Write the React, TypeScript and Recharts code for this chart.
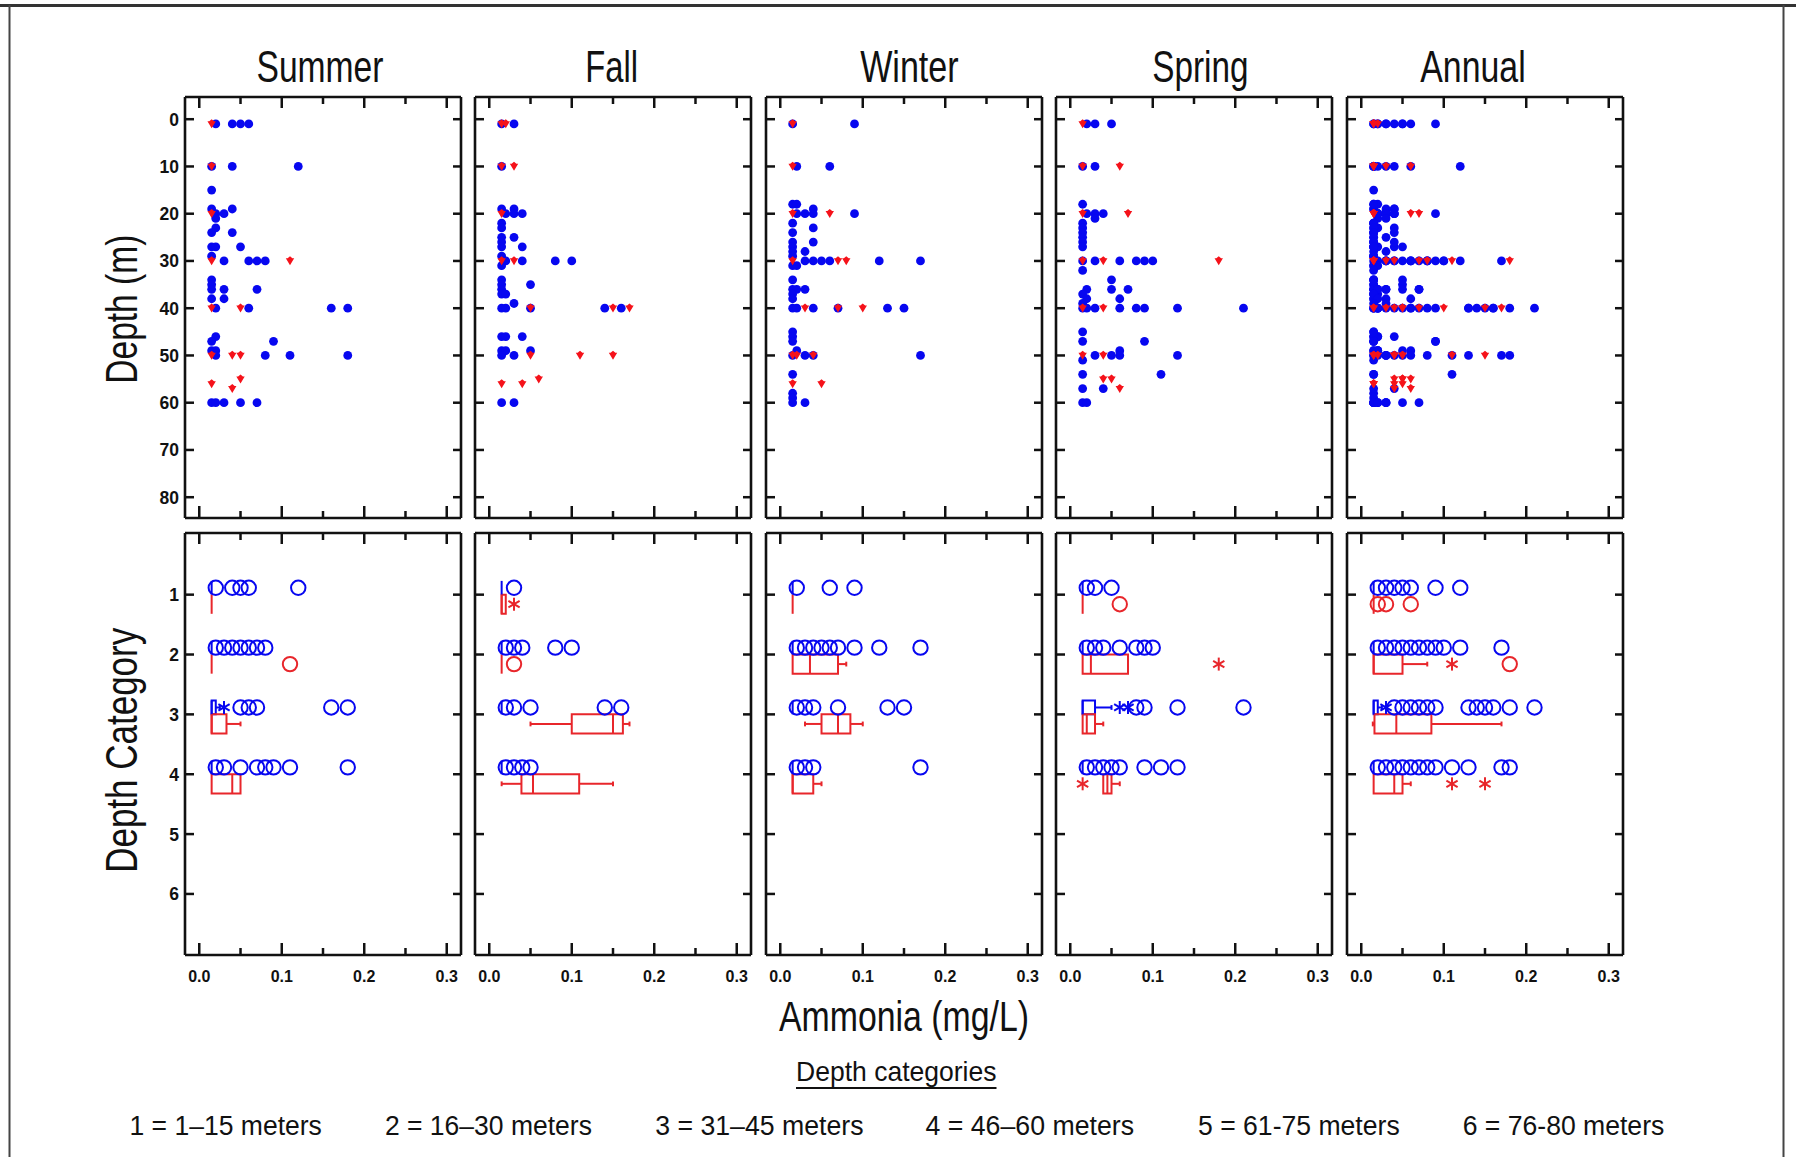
import React from 'react';
import {
  ComposedChart,
  Scatter,
  XAxis,
  YAxis,
  ReferenceArea,
  ReferenceLine,
} from 'recharts';

// [depth (m), ammonia values at that depth]
type Row = [number, number[]];
// [category, whiskerLow, q1, median, q3, whiskerHigh]
type Box = [number, number, number, number, number, number];
// [category, outlier values]
type Outliers = [number, number[]];

const SEASONS = ['Summer', 'Fall', 'Winter', 'Spring', 'Annual'];
const AMMONIA_TICKS = [0, 0.05, 0.1, 0.15, 0.2, 0.25, 0.3];
const DEPTH_TICKS = [0, 10, 20, 30, 40, 50, 60, 70, 80];
const CATEGORY_TICKS = [1, 2, 3, 4, 5, 6];
const LEGEND_ITEMS = [
  '1 = 1–15 meters',
  '2 = 16–30 meters',
  '3 = 31–45 meters',
  '4 = 46–60 meters',
  '5 = 61-75 meters',
  '6 = 76-80 meters',
];

// ---- depth profiles (top row) ----
const summerBlue: Row[] = [
  [1, [0.02, 0.04, 0.05, 0.06]],
  [10, [0.015, 0.04, 0.12]],
  [15, [0.015]],
  [19, [0.015, 0.04]],
  [20, [0.02, 0.03]],
  [21, [0.02]],
  [23, [0.02]],
  [24, [0.015, 0.04]],
  [27, [0.015, 0.02, 0.05]],
  [29, [0.015]],
  [30, [0.03, 0.06, 0.07, 0.08]],
  [34, [0.015]],
  [35, [0.015]],
  [36, [0.015, 0.03, 0.07]],
  [38, [0.015, 0.03]],
  [40, [0.02, 0.06, 0.16, 0.18]],
  [46, [0.02]],
  [47, [0.015, 0.09]],
  [49, [0.015, 0.02]],
  [50, [0.02, 0.08, 0.11, 0.18]],
  [60, [0.015, 0.02, 0.03, 0.05, 0.07]],
];
const summerRed: Row[] = [
  [1, [0.015]],
  [10, [0.015]],
  [20, [0.015]],
  [30, [0.015, 0.11]],
  [40, [0.015, 0.05]],
  [50, [0.015, 0.04, 0.05]],
  [55, [0.05]],
  [56, [0.015]],
  [57, [0.04]],
];

const fallBlue: Row[] = [
  [1, [0.015, 0.03]],
  [10, [0.015]],
  [19, [0.015, 0.03]],
  [20, [0.02, 0.03, 0.04]],
  [22, [0.015]],
  [23, [0.015]],
  [25, [0.015, 0.03]],
  [26, [0.015]],
  [27, [0.015, 0.04]],
  [29, [0.015]],
  [30, [0.02, 0.04, 0.08, 0.1]],
  [31, [0.015]],
  [34, [0.015]],
  [35, [0.015, 0.05]],
  [36, [0.015]],
  [37, [0.015, 0.02]],
  [39, [0.03]],
  [40, [0.015, 0.02, 0.05, 0.14, 0.16]],
  [46, [0.015, 0.02, 0.04]],
  [49, [0.015, 0.02, 0.05]],
  [50, [0.015, 0.03]],
  [60, [0.015, 0.03]],
];
const fallRed: Row[] = [
  [1, [0.015, 0.02]],
  [10, [0.015, 0.03]],
  [20, [0.015]],
  [30, [0.015, 0.03]],
  [40, [0.05, 0.15, 0.17]],
  [50, [0.05, 0.11, 0.15]],
  [55, [0.06]],
  [56, [0.015, 0.04]],
];

const winterBlue: Row[] = [
  [1, [0.015, 0.09]],
  [10, [0.02, 0.06]],
  [18, [0.015, 0.02]],
  [19, [0.04]],
  [20, [0.02, 0.03, 0.04, 0.09]],
  [22, [0.015]],
  [23, [0.04]],
  [24, [0.015]],
  [26, [0.015, 0.04]],
  [27, [0.015]],
  [28, [0.015, 0.03]],
  [29, [0.015]],
  [30, [0.03, 0.04, 0.05, 0.06, 0.12, 0.17]],
  [31, [0.015, 0.02]],
  [34, [0.015]],
  [36, [0.015, 0.02, 0.03]],
  [37, [0.015]],
  [38, [0.015]],
  [40, [0.015, 0.02, 0.04, 0.07, 0.13, 0.15]],
  [45, [0.015]],
  [46, [0.015]],
  [47, [0.015]],
  [49, [0.02]],
  [50, [0.015, 0.03, 0.04, 0.17]],
  [54, [0.015]],
  [58, [0.015]],
  [59, [0.015]],
  [60, [0.015, 0.03]],
];
const winterRed: Row[] = [
  [1, [0.015]],
  [10, [0.015]],
  [20, [0.015, 0.06]],
  [30, [0.015, 0.07, 0.08]],
  [40, [0.03, 0.07, 0.1]],
  [50, [0.015, 0.02, 0.04]],
  [56, [0.015, 0.05]],
];

const springBlue: Row[] = [
  [1, [0.02, 0.03, 0.05]],
  [10, [0.015, 0.03]],
  [18, [0.015]],
  [20, [0.02, 0.03, 0.04]],
  [21, [0.03]],
  [22, [0.015]],
  [23, [0.015]],
  [24, [0.015]],
  [25, [0.015]],
  [26, [0.015]],
  [27, [0.015]],
  [30, [0.015, 0.03, 0.06, 0.08, 0.09, 0.1]],
  [32, [0.015]],
  [34, [0.05]],
  [36, [0.02, 0.05, 0.07]],
  [37, [0.015]],
  [38, [0.02, 0.06]],
  [39, [0.015]],
  [40, [0.015, 0.02, 0.03, 0.06, 0.08, 0.09, 0.13, 0.21]],
  [45, [0.015]],
  [47, [0.015, 0.09]],
  [49, [0.06]],
  [50, [0.03, 0.05, 0.06, 0.13]],
  [51, [0.015]],
  [54, [0.015, 0.11]],
  [57, [0.015, 0.04]],
  [60, [0.015, 0.02]],
];
const springRed: Row[] = [
  [1, [0.015]],
  [10, [0.015, 0.06]],
  [20, [0.015, 0.07]],
  [30, [0.015, 0.04, 0.18]],
  [40, [0.015, 0.04]],
  [50, [0.015, 0.04]],
  [55, [0.04, 0.05]],
  [57, [0.06]],
];

// annual panel pools all four seasons
const annualBlue: Row[] = [...summerBlue, ...fallBlue, ...winterBlue, ...springBlue];
const annualRed: Row[] = [...summerRed, ...fallRed, ...winterRed, ...springRed];

// ---- box plots by depth category (bottom row) ----
const summerBlueBox: Box[] = [
  [1, 0.015, 0.015, 0.015, 0.015, 0.015],
  [2, 0.015, 0.015, 0.015, 0.015, 0.015],
  [3, 0.015, 0.015, 0.015, 0.02, 0.025],
  [4, 0.015, 0.015, 0.015, 0.015, 0.015],
];
const summerRedBox: Box[] = [
  [1, 0.015, 0.015, 0.015, 0.015, 0.015],
  [2, 0.015, 0.015, 0.015, 0.015, 0.015],
  [3, 0.015, 0.015, 0.015, 0.033, 0.05],
  [4, 0.015, 0.015, 0.04, 0.05, 0.05],
];
const summerBlueFar: Outliers[] = [
  [1, [0.02, 0.04, 0.05, 0.06, 0.12]],
  [2, [0.02, 0.03, 0.04, 0.05, 0.06, 0.07, 0.08]],
  [3, [0.05, 0.06, 0.07, 0.16, 0.18]],
  [4, [0.02, 0.03, 0.05, 0.07, 0.08, 0.09, 0.11, 0.18]],
];
const summerBlueNear: Outliers[] = [[3, [0.03]]];
const summerRedFar: Outliers[] = [[2, [0.11]]];
const summerRedNear: Outliers[] = [];

const fallBlueBox: Box[] = [
  [1, 0.015, 0.015, 0.015, 0.015, 0.015],
  [2, 0.015, 0.015, 0.015, 0.015, 0.015],
  [3, 0.015, 0.015, 0.015, 0.015, 0.015],
  [4, 0.015, 0.015, 0.015, 0.015, 0.015],
];
const fallRedBox: Box[] = [
  [1, 0.015, 0.015, 0.015, 0.02, 0.02],
  [2, 0.015, 0.015, 0.015, 0.015, 0.015],
  [3, 0.05, 0.1, 0.15, 0.162, 0.17],
  [4, 0.015, 0.039, 0.053, 0.109, 0.15],
];
const fallBlueFar: Outliers[] = [
  [1, [0.03]],
  [2, [0.02, 0.03, 0.04, 0.08, 0.1]],
  [3, [0.02, 0.03, 0.05, 0.14, 0.16]],
  [4, [0.02, 0.03, 0.04, 0.05]],
];
const fallBlueNear: Outliers[] = [];
const fallRedFar: Outliers[] = [[2, [0.03]]];
const fallRedNear: Outliers[] = [[1, [0.03]]];

const winterBlueBox: Box[] = [
  [1, 0.015, 0.015, 0.015, 0.015, 0.015],
  [2, 0.015, 0.015, 0.015, 0.015, 0.015],
  [3, 0.015, 0.015, 0.015, 0.015, 0.015],
  [4, 0.015, 0.015, 0.015, 0.015, 0.015],
];
const winterRedBox: Box[] = [
  [1, 0.015, 0.015, 0.015, 0.015, 0.015],
  [2, 0.015, 0.015, 0.036, 0.07, 0.08],
  [3, 0.03, 0.05, 0.07, 0.085, 0.1],
  [4, 0.015, 0.015, 0.015, 0.04, 0.05],
];
const winterBlueFar: Outliers[] = [
  [1, [0.02, 0.06, 0.09]],
  [2, [0.02, 0.03, 0.04, 0.05, 0.06, 0.07, 0.09, 0.12, 0.17]],
  [3, [0.02, 0.03, 0.04, 0.07, 0.13, 0.15]],
  [4, [0.02, 0.03, 0.04, 0.17]],
];
const winterBlueNear: Outliers[] = [];
const winterRedFar: Outliers[] = [];
const winterRedNear: Outliers[] = [];

const springBlueBox: Box[] = [
  [1, 0.015, 0.015, 0.015, 0.015, 0.015],
  [2, 0.015, 0.015, 0.015, 0.015, 0.015],
  [3, 0.015, 0.015, 0.015, 0.03, 0.05],
  [4, 0.015, 0.015, 0.015, 0.015, 0.015],
];
const springRedBox: Box[] = [
  [1, 0.015, 0.015, 0.015, 0.015, 0.015],
  [2, 0.015, 0.015, 0.025, 0.07, 0.07],
  [3, 0.015, 0.015, 0.02, 0.03, 0.04],
  [4, 0.04, 0.04, 0.045, 0.05, 0.06],
];
const springBlueFar: Outliers[] = [
  [1, [0.02, 0.03, 0.05]],
  [2, [0.02, 0.03, 0.04, 0.06, 0.08, 0.09, 0.1]],
  [3, [0.08, 0.09, 0.13, 0.21]],
  [4, [0.02, 0.03, 0.04, 0.05, 0.06, 0.09, 0.11, 0.13]],
];
const springBlueNear: Outliers[] = [[3, [0.06, 0.07]]];
const springRedFar: Outliers[] = [[1, [0.06]]];
const springRedNear: Outliers[] = [
  [2, [0.18]],
  [4, [0.015]],
];

const annualBlueBox: Box[] = [
  [1, 0.015, 0.015, 0.015, 0.015, 0.015],
  [2, 0.015, 0.015, 0.015, 0.015, 0.015],
  [3, 0.015, 0.015, 0.015, 0.02, 0.025],
  [4, 0.015, 0.015, 0.015, 0.015, 0.015],
];
const annualRedBox: Box[] = [
  [1, 0.015, 0.015, 0.015, 0.015, 0.015],
  [2, 0.015, 0.015, 0.015, 0.05, 0.08],
  [3, 0.014, 0.016, 0.0425, 0.085, 0.17],
  [4, 0.015, 0.015, 0.04, 0.05, 0.06],
];
const annualBlueFar: Outliers[] = [
  [1, [0.02, 0.03, 0.04, 0.05, 0.06, 0.09, 0.12]],
  [2, [0.02, 0.03, 0.04, 0.05, 0.06, 0.07, 0.08, 0.09, 0.1, 0.12, 0.17]],
  [3, [0.04, 0.05, 0.06, 0.07, 0.08, 0.09, 0.13, 0.14, 0.15, 0.16, 0.18, 0.21]],
  [4, [0.02, 0.03, 0.04, 0.05, 0.06, 0.07, 0.08, 0.09, 0.11, 0.13, 0.17, 0.18]],
];
const annualBlueNear: Outliers[] = [[3, [0.03]]];
const annualRedFar: Outliers[] = [
  [1, [0.02, 0.03, 0.06]],
  [2, [0.18]],
];
const annualRedNear: Outliers[] = [
  [2, [0.11]],
  [4, [0.11, 0.15]],
];

const PROFILES: [Row[], Row[]][] = [
  [summerBlue, summerRed],
  [fallBlue, fallRed],
  [winterBlue, winterRed],
  [springBlue, springRed],
  [annualBlue, annualRed],
];

const BOXES = [
  { blueBox: summerBlueBox, redBox: summerRedBox, blueFar: summerBlueFar, blueNear: summerBlueNear, redFar: summerRedFar, redNear: summerRedNear },
  { blueBox: fallBlueBox, redBox: fallRedBox, blueFar: fallBlueFar, blueNear: fallBlueNear, redFar: fallRedFar, redNear: fallRedNear },
  { blueBox: winterBlueBox, redBox: winterRedBox, blueFar: winterBlueFar, blueNear: winterBlueNear, redFar: winterRedFar, redNear: winterRedNear },
  { blueBox: springBlueBox, redBox: springRedBox, blueFar: springBlueFar, blueNear: springBlueNear, redFar: springRedFar, redNear: springRedNear },
  { blueBox: annualBlueBox, redBox: annualRedBox, blueFar: annualBlueFar, blueNear: annualBlueNear, redFar: annualRedFar, redNear: annualRedNear },
];

// ---- layout / style ----
const BLUE = '#0707f0';
const RED = '#f5121a';
const BOX_RED = '#e8262b';
const INK = '#111';
const FONT = "'Liberation Sans', Arial, sans-serif";

const PANEL_LEFT0 = 184.5;
const PANEL_STEP = 290.6;
const PANEL_W = 276;
const TOP_ROW = { y: 97, h: 421 };
const BOTTOM_ROW = { y: 532.5, h: 422 };
const PAD = 6;
const LABEL_W = 70;
const LABEL_H = 40;
const X_DOMAIN = [-0.0173, 0.3173];
const DEPTH_DOMAIN = [-4.7, 84.4];
const CATEGORY_DOMAIN = [-0.03, 7.02];

// blue group sits just above each category line, red just below
const BLUE_BAND = [-0.23, 0];
const RED_BAND = [0, 0.32];
const BLUE_OUT = -0.115;
const RED_OUT = 0.16;

const TITLE_CENTER = [320, 611.6, 909.4, 1200.4, 1473];
const TITLE_WIDTH = [127, 52.7, 98.5, 96.2, 105.4];
const LEGEND_LEFT = [129.4, 384.9, 655.2, 925.5, 1198, 1462.7];
const LEGEND_WIDTH = [192.5, 207, 208.4, 208.5, 201.7, 201.6];

const toPoints = (rows: Row[]) => rows.flatMap(([y, xs]) => xs.map((x) => ({ x, y })));
const toOffsetPoints = (rows: Outliers[], off: number) =>
  rows.flatMap(([c, xs]) => xs.map((x) => ({ x, y: c + off })));

const isMajor = (v: number) => Math.abs(v * 10 - Math.round(v * 10)) < 1e-6;

// ---- marker shapes ----
const FilledDot = (p: any) => <circle cx={p.cx} cy={p.cy} r={4.4} fill={BLUE} />;
const RedDiamond = (p: any) => (
  <path
    d={`M${p.cx - 4.2},${p.cy - 2.6} L${p.cx + 4.2},${p.cy - 2.6} L${p.cx},${p.cy + 4.4} Z M${p.cx - 2.4},${p.cy - 2.6} L${p.cx},${p.cy - 4.6} L${p.cx + 2.4},${p.cy - 2.6} Z`}
    fill={RED}
  />
);
const ring = (color: string) => (p: any) => (
  <circle cx={p.cx} cy={p.cy} r={7.2} fill="none" stroke={color} strokeWidth={2} />
);
const star = (color: string) => (p: any) => {
  const r = 6.5;
  const dx = r * 0.866;
  const dy = r * 0.5;
  return (
    <g stroke={color} strokeWidth={2}>
      <line x1={p.cx} y1={p.cy - r} x2={p.cx} y2={p.cy + r} />
      <line x1={p.cx - dx} y1={p.cy - dy} x2={p.cx + dx} y2={p.cy + dy} />
      <line x1={p.cx - dx} y1={p.cy + dy} x2={p.cx + dx} y2={p.cy - dy} />
    </g>
  );
};

// ---- inward ticks on all four sides ----
const tickText = { fontFamily: FONT, fontWeight: 700, fill: INK };

const bottomTick = (showLabel: boolean) => (p: any) => {
  const v = p.payload.value;
  const major = isMajor(v);
  return (
    <g>
      <line x1={p.x} y1={p.y} x2={p.x} y2={p.y - (major ? 12 : 7)} stroke={INK} strokeWidth={2.5} />
      {showLabel && major && (
        <text x={p.x} y={p.y + 27} textAnchor="middle" fontSize={16} {...tickText}>
          {v.toFixed(1)}
        </text>
      )}
    </g>
  );
};
const topTick = (p: any) => {
  const major = isMajor(p.payload.value);
  return <line x1={p.x} y1={p.y} x2={p.x} y2={p.y + (major ? 11 : 7)} stroke={INK} strokeWidth={2.5} />;
};
const leftTick = (showLabel: boolean) => (p: any) => (
  <g>
    <line x1={p.x} y1={p.y} x2={p.x + 9} y2={p.y} stroke={INK} strokeWidth={2.5} />
    {showLabel && (
      <text x={p.x - 6} y={p.y + 6.5} textAnchor="end" fontSize={17.5} {...tickText}>
        {p.payload.value}
      </text>
    )}
  </g>
);
const rightTick = (p: any) => (
  <line x1={p.x} y1={p.y} x2={p.x - 8} y2={p.y} stroke={INK} strokeWidth={2.5} />
);

function boxElements(boxes: Box[], color: string, band: number[], tag: string) {
  const axis = { xAxisId: 'b', yAxisId: 'l' };
  const line = { stroke: color, strokeWidth: 2 };
  return boxes.flatMap(([cat, lo, q1, med, q3, hi]) => {
    const top = cat + band[0];
    const bot = cat + band[1];
    const mid = (top + bot) / 2;
    const cap = 0.04;
    const els: React.ReactElement[] = [];
    const k = `${tag}-${cat}`;
    if (q3 > q1) {
      els.push(
        <ReferenceArea key={`${k}-box`} {...axis} x1={q1} x2={q3} y1={top} y2={bot}
          stroke={color} strokeWidth={2} fill="none" fillOpacity={0} />
      );
    }
    els.push(
      <ReferenceLine key={`${k}-med`} {...axis} {...line}
        segment={[{ x: med, y: top }, { x: med, y: bot }]} />
    );
    if (lo < q1) {
      els.push(<ReferenceLine key={`${k}-wl`} {...axis} {...line} segment={[{ x: lo, y: mid }, { x: q1, y: mid }]} />);
      els.push(<ReferenceLine key={`${k}-cl`} {...axis} {...line} segment={[{ x: lo, y: mid - cap }, { x: lo, y: mid + cap }]} />);
    }
    if (hi > q3) {
      els.push(<ReferenceLine key={`${k}-wh`} {...axis} {...line} segment={[{ x: q3, y: mid }, { x: hi, y: mid }]} />);
      els.push(<ReferenceLine key={`${k}-ch`} {...axis} {...line} segment={[{ x: hi, y: mid - cap }, { x: hi, y: mid + cap }]} />);
    }
    return els;
  });
}

function Panel({
  col,
  bottom,
  children,
}: {
  col: number;
  bottom: boolean;
  children: React.ReactNode;
}) {
  const row = bottom ? BOTTOM_ROW : TOP_ROW;
  const showY = col === 0;
  const leftW = showY ? LABEL_W : PAD;
  const bottomH = bottom ? LABEL_H : PAD;
  const width = leftW + PANEL_W + PAD;
  const height = PAD + row.h + bottomH;
  const yTicks = bottom ? CATEGORY_TICKS : DEPTH_TICKS;
  const yDomain = bottom ? CATEGORY_DOMAIN : DEPTH_DOMAIN;
  const axisLine = { stroke: INK, strokeWidth: 2.6 };
  return (
    <div
      style={{
        position: 'absolute',
        left: PANEL_LEFT0 + col * PANEL_STEP - leftW,
        top: row.y - PAD,
        width,
        height,
      }}
    >
      <ComposedChart width={width} height={height} margin={{ top: 0, right: 0, bottom: 0, left: 0 }}>
        <XAxis xAxisId="b" orientation="bottom" type="number" dataKey="x" domain={X_DOMAIN}
          allowDataOverflow ticks={AMMONIA_TICKS} interval={0} height={bottomH}
          tickSize={0} tickMargin={0} tickLine={false} axisLine={axisLine} tick={bottomTick(bottom)} />
        <XAxis xAxisId="t" orientation="top" type="number" dataKey="x" domain={X_DOMAIN}
          allowDataOverflow ticks={AMMONIA_TICKS} interval={0} height={PAD}
          tickSize={0} tickMargin={0} tickLine={false} axisLine={axisLine} tick={topTick} />
        <YAxis yAxisId="l" orientation="left" type="number" dataKey="y" domain={yDomain} reversed
          allowDataOverflow ticks={yTicks} interval={0} width={leftW}
          tickSize={0} tickMargin={0} tickLine={false} axisLine={axisLine} tick={leftTick(showY)} />
        <YAxis yAxisId="r" orientation="right" type="number" dataKey="y" domain={yDomain} reversed
          allowDataOverflow ticks={yTicks} interval={0} width={PAD}
          tickSize={0} tickMargin={0} tickLine={false} axisLine={axisLine} tick={rightTick} />
        {children}
      </ComposedChart>
    </div>
  );
}

function ProfilePanel({ col }: { col: number }) {
  const [blue, red] = PROFILES[col];
  return (
    <Panel col={col} bottom={false}>
      <Scatter xAxisId="b" yAxisId="l" data={toPoints(blue)} shape={FilledDot} isAnimationActive={false} />
      <Scatter xAxisId="b" yAxisId="l" data={toPoints(red)} shape={RedDiamond} isAnimationActive={false} />
    </Panel>
  );
}

function CategoryPanel({ col }: { col: number }) {
  const s = BOXES[col];
  return (
    <Panel col={col} bottom>
      {boxElements(s.blueBox, BLUE, BLUE_BAND, `b${col}`)}
      {boxElements(s.redBox, BOX_RED, RED_BAND, `r${col}`)}
      <Scatter xAxisId="b" yAxisId="l" data={toOffsetPoints(s.blueFar, BLUE_OUT)} shape={ring(BLUE)} isAnimationActive={false} />
      <Scatter xAxisId="b" yAxisId="l" data={toOffsetPoints(s.blueNear, BLUE_OUT)} shape={star(BLUE)} isAnimationActive={false} />
      <Scatter xAxisId="b" yAxisId="l" data={toOffsetPoints(s.redFar, RED_OUT)} shape={ring(BOX_RED)} isAnimationActive={false} />
      <Scatter xAxisId="b" yAxisId="l" data={toOffsetPoints(s.redNear, RED_OUT)} shape={star(BOX_RED)} isAnimationActive={false} />
    </Panel>
  );
}

function Label({ x, y, w, size, children, rotate = false }: any) {
  return (
    <text
      x={x}
      y={y}
      fontFamily={FONT}
      fontSize={size}
      fill={INK}
      textLength={w}
      lengthAdjust="spacingAndGlyphs"
      transform={rotate ? `rotate(-90, ${x}, ${y})` : undefined}
    >
      {children}
    </text>
  );
}

export default function App() {
  return (
    <div style={{ position: 'absolute', left: 0, top: 0, width: 1796, height: 1157, background: '#fff' }}>
      <svg width={1796} height={1157} style={{ position: 'absolute', left: 0, top: 0 }}>
        <line x1={0} y1={5.5} x2={1796} y2={5.5} stroke="#333" strokeWidth={3} />
        <line x1={9.5} y1={5} x2={9.5} y2={1157} stroke="#444" strokeWidth={2} />
        <line x1={1783.5} y1={5} x2={1783.5} y2={1157} stroke="#444" strokeWidth={2} />
        {SEASONS.map((s, i) => (
          <Label key={s} x={TITLE_CENTER[i] - TITLE_WIDTH[i] / 2} y={82} w={TITLE_WIDTH[i]} size={45}>
            {s}
          </Label>
        ))}
        <Label x={137.5} y={383.7} w={149} size={45} rotate>
          Depth (m)
        </Label>
        <Label x={137.5} y={872.8} w={245} size={45} rotate>
          Depth Category
        </Label>
        <Label x={779} y={1031} w={250} size={43}>
          Ammonia (mg/L)
        </Label>
        <Label x={796} y={1081} w={200.5} size={28}>
          Depth categories
        </Label>
        <line x1={796} y1={1088} x2={996.5} y2={1088} stroke={INK} strokeWidth={2} />
        {LEGEND_ITEMS.map((t, i) => (
          <Label key={t} x={LEGEND_LEFT[i]} y={1135} w={LEGEND_WIDTH[i]} size={27}>
            {t}
          </Label>
        ))}
      </svg>
      {SEASONS.map((s, i) => (
        <ProfilePanel key={`p-${s}`} col={i} />
      ))}
      {SEASONS.map((s, i) => (
        <CategoryPanel key={`c-${s}`} col={i} />
      ))}
    </div>
  );
}
